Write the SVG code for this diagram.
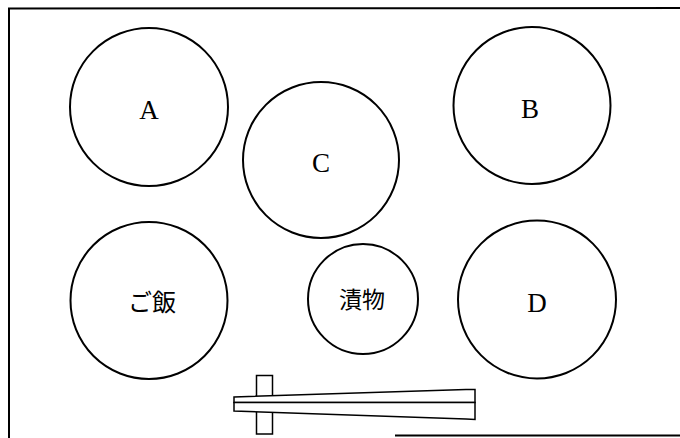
<svg xmlns="http://www.w3.org/2000/svg" width="680" height="438" viewBox="0 0 680 438">
<style>
.plate{fill:none;stroke:#000;stroke-width:2}
.lbl{font-family:"Liberation Serif","Noto Serif CJK JP","Noto Sans CJK JP",serif;font-size:27px;fill:#000;text-anchor:middle}
.jp{font-family:"Noto Sans CJK JP",sans-serif;font-size:24px;fill:#000;text-anchor:middle}
.frame{fill:none;stroke:#000;stroke-width:2}
.stick{fill:#fff;stroke:#000;stroke-width:1.5;stroke-linejoin:miter}
</style>
<rect width="680" height="438" fill="#fff"/>
<g id="frame">
<path class="frame" d="M9,438 L9,8.5 L680,8"/>
<path class="frame" d="M395,435.5 L680,435.5"/>
</g>
<g id="A"><circle class="plate" cx="149" cy="107" r="79"/><text class="lbl" x="149" y="119">A</text></g>
<g id="B"><circle class="plate" cx="532" cy="105.5" r="78.5"/><text class="lbl" x="530" y="118">B</text></g>
<g id="C"><circle class="plate" cx="321" cy="160" r="78"/><text class="lbl" x="321" y="172">C</text></g>
<g id="gohan"><circle class="plate" cx="149" cy="300.5" r="78.5"/><text class="jp" x="152" y="311">ご飯</text></g>
<g id="tsukemono"><circle class="plate" cx="363" cy="299" r="55"/><text class="jp" x="362" y="308" style="font-size:23px">漬物</text></g>
<g id="D"><circle class="plate" cx="537" cy="299.5" r="79"/><text class="lbl" x="537" y="312">D</text></g>
<g id="chopsticks">
<rect class="stick" x="256.5" y="375.5" width="16" height="58.5"/>
<path class="stick" d="M234,397 L466,389.5 L475,389.5 L475,402.5 L234,402.5 Z"/>
<path class="stick" d="M234,402.5 L475,402.5 L475,419.5 L466,419 L234,411 Z"/>
</g>
<g id="connectors"></g>
</svg>
